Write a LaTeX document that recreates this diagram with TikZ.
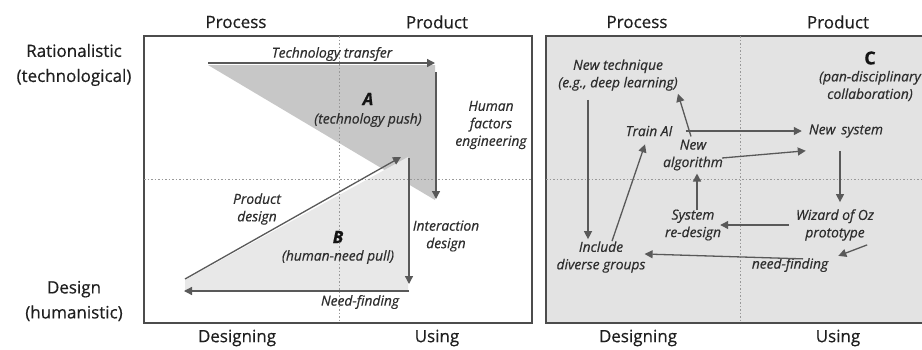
\documentclass[tikz,border=0pt]{standalone}
\usepackage{fontspec}
\setmainfont{Open Sans}[FakeBold=0.5]
\usetikzlibrary{arrows.meta}
\begin{document}
\begin{tikzpicture}[x=1pt,y=-1pt,
  hdr/.style={font=\fontsize{17}{25}\selectfont, text=black!88, inner sep=0pt, align=center},
  lab/.style={font=\fontsize{13.8}{17.5}\selectfont\itshape, text=black!82, align=center, inner sep=1pt},
  letterlab/.style={font=\fontsize{17}{20}\selectfont\bfseries\itshape, text=black!92, inner sep=0pt},
  arr/.style={draw=black!65, line width=1.3pt, -{Triangle[length=8pt,width=8pt]}},
  dotline/.style={draw=black!40, line width=0.8pt, dash pattern=on 1.5pt off 2pt},
  panelbox/.style={draw=black!70, line width=1.2pt}]
\useasboundingbox (0,0) rectangle (922,349);

% ---------- left panel ----------
\draw[panelbox, fill=white] (144,36) rectangle (532,323);
\fill[black!22] (208,65) -- (435,65) -- (435,200) -- cycle;
\fill[black!9] (185,280) -- (408,157) -- (408,291) -- (185,291) -- cycle;
\draw[dotline] (339,36) -- (339,323);
\draw[dotline] (144,179) -- (532,179);

\coordinate (ttS) at (208,63);
\coordinate (ttE) at (435,63);
\coordinate (hfS) at (436,72);
\coordinate (hfE) at (436,199);
\coordinate (pdS) at (185,279);
\coordinate (pdE) at (401,157);
\coordinate (idS) at (409,158);
\coordinate (idE) at (409,284);
\coordinate (nfS) at (409,291);
\coordinate (nfE) at (184,291);

\draw[arr] (ttS) -- (ttE);
\draw[arr] (hfS) -- (hfE);
\draw[arr] (pdS) -- (pdE);
\draw[arr] (idS) -- (idE);
\draw[arr] (nfS) -- (nfE);

\node[lab] (lTT) at (332,54) {Technology transfer};
\node[letterlab] (lA) at (368,99) {A};
\node[lab] (lApush) at (368,120) {(technology push)};
\node[lab] (lHF) at (491,125) {Human\\factors\\engineering};
\node[lab] (lPD) at (257,209) {Product\\design};
\node[letterlab] (lB) at (338,237) {B};
\node[lab] (lBpull) at (338,257) {(human-need pull)};
\node[lab] (lID) at (446,236) {Interaction\\design};
\node[lab] (lNF) at (360,302) {Need-finding};

\node[hdr] (hProc1) at (236,22) {Process};
\node[hdr] (hProd1) at (437,22) {Product};
\node[hdr] (hDes1) at (237,338) {Designing};
\node[hdr] (hUse1) at (437,338) {Using};
\node[hdr] (hRat) at (74,65) {Rationalistic\\(technological)};
\node[hdr] (hHum) at (74,301) {Design\\(humanistic)};

% ---------- right panel ----------
\fill[black!11] (546,36) rectangle (922,323);
\draw[panelbox] (925,36) -- (546,36) -- (546,323) -- (925,323);
\draw[dotline] (740,36) -- (740,323);
\draw[dotline] (546,179) -- (922,179);

\node[hdr] (hProc2) at (637,22) {Process};
\node[hdr] (hProd2) at (838,22) {Product};
\node[hdr] (hDes2) at (638,338) {Designing};
\node[hdr] (hUse2) at (838,338) {Using};

\node[font=\fontsize{18}{20}\selectfont\bfseries, text=black!92, inner sep=0pt] (lC) at (870,58) {C};
\node[lab] (pan) at (870,86) {(pan-disciplinary\\collaboration)};
\node[lab] (newtech) at (618,75) {New technique\\(e.g., deep learning)};
\node[lab] (trainai) at (649,131) {Train AI};
\node[lab] (newsys) at (846,131) {New\, system};
\node[lab] (newalg) at (693,155) {New\\algorithm};
\node[lab] (sysre) at (693,225) {System\\re-design};
\node[lab] (wizard) at (835,225) {Wizard of Oz\\prototype};
\node[lab] (needf) at (790,265) {need-finding};
\node[lab] (include) at (601,257) {Include\\diverse groups};

\draw[arr] ([xshift=-30pt,yshift=-8pt]newtech.south) -- ([xshift=-13pt,yshift=1pt]include.north);
\draw[arr] ([xshift=11pt,yshift=-1pt]include.north) -- ([xshift=-4pt,yshift=-7pt]trainai.south);
\draw[arr] ([xshift=12pt]trainai.east) -- ([xshift=-6pt]newsys.west);
\draw[arr] ([xshift=-2pt,yshift=2pt]newalg.north) -- ([xshift=60pt,yshift=-2pt]newtech.south);
\draw[arr] ([xshift=-2pt,yshift=-3pt]newalg.east) -- ([xshift=-2pt,yshift=-12pt]newsys.south west);
\draw[arr] ([xshift=4pt,yshift=-2pt]sysre.north) -- ([xshift=4pt,yshift=-2pt]newalg.south);
\draw[arr] ([xshift=-6pt,yshift=-12pt]newsys.south) -- ([xshift=5pt,yshift=6pt]wizard.north);
\draw[arr] ([xshift=-6pt]wizard.west |- wizard.center) -- ([xshift=-2pt]sysre.east |- wizard.center);
\draw[arr] ([xshift=-8pt,yshift=-3pt]wizard.south east) -- ([xshift=9pt,yshift=1pt]needf.north east);
\draw[arr] ([xshift=13pt,yshift=-2pt]needf.north) -- ([xshift=-2pt]include.east |- {(0,254)});
\end{tikzpicture}
\end{document}
